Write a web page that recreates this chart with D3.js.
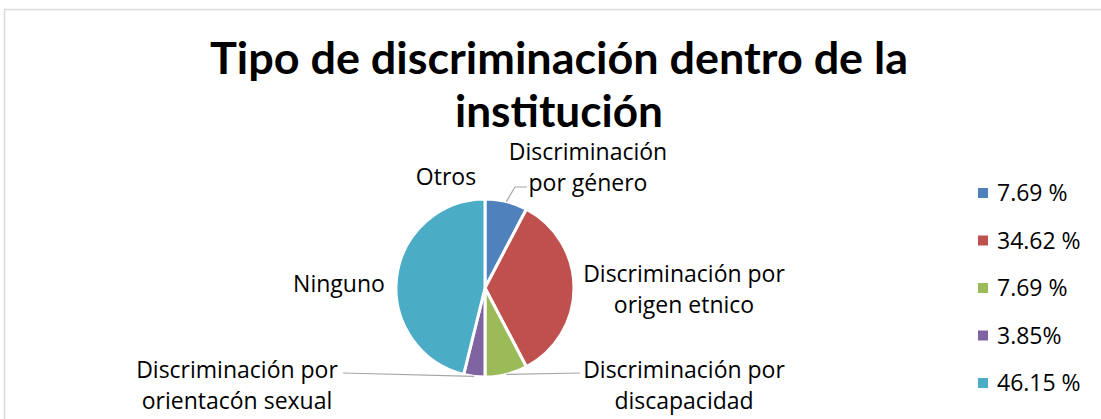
<!DOCTYPE html>
<html>
<head>
<meta charset="utf-8">
<script src="https://cdn.jsdelivr.net/npm/d3@7"></script>
<style>
  body { margin: 0; background: #fff; }
  text { font-family: "Open Sans", Lato, sans-serif; fill: #000; }
</style>
</head>
<body>
<div id="chart"></div>
<script>
// slice data (clockwise from 12 o'clock)
const categories = [
  "Discriminación por género",
  "Discriminación por origen etnico",
  "Discriminación por discapacidad",
  "Discriminación por orientacón sexual",
  "Ninguno",
  "Otros"
];
const values = [7.69, 34.62, 7.69, 3.85, 46.15, 0];
const legendLabels = ["7.69 %", "34.62 %", "7.69 %", "3.85%", "46.15 %"];
const colors = ["#4F81BD", "#C0504D", "#9BBB59", "#8064A2", "#4BACC6", "#F79646"];

// label text lines and where they sit
const labelLayout = [
  { lines: ["Discriminación", "por género"], x: 588, y: 160, leader: [[515, 187], [527, 187]] },
  { lines: ["Discriminación por", "origen etnico"], x: 684, y: 282 },
  { lines: ["Discriminación por", "discapacidad"], x: 684, y: 378, leader: [[580, 373]] },
  { lines: ["Discriminación por", "orientacón sexual"], x: 237, y: 378, leader: [[343, 373]] },
  { lines: ["Ninguno"], x: 339, y: 292 },
  { lines: ["Otros"], x: 446, y: 185 }
];

const width = 1101, height = 419;
const cx = 485, cy = 288, radius = 89;

const svg = d3.select("#chart").append("svg")
    .attr("width", width)
    .attr("height", height);

// chart area border
svg.append("rect")
    .attr("x", 4.5).attr("y", 9.5)
    .attr("width", 1200).attr("height", 600)
    .attr("fill", "none")
    .attr("stroke", "#D9D9D9")
    .attr("stroke-width", 1.5);

// title
const title = svg.append("text")
    .attr("text-anchor", "middle")
    .style("font-family", "Lato, sans-serif")
    .style("font-weight", "bold")
    .style("font-size", "44px");
title.append("tspan").attr("x", 559).attr("y", 74)
    .attr("textLength", 698).attr("lengthAdjust", "spacingAndGlyphs")
    .text("Tipo de discriminación dentro de la");
title.append("tspan").attr("x", 559).attr("y", 127)
    .attr("textLength", 208).attr("lengthAdjust", "spacingAndGlyphs")
    .text("institución");

const data = categories.map((c, i) => ({ name: c, value: values[i], color: colors[i] }));

const pie = d3.pie().sort(null).value(d => d.value);
const arcs = pie(data);
const arc = d3.arc().innerRadius(0).outerRadius(radius);

const g = svg.append("g").attr("transform", `translate(${cx},${cy})`);

g.selectAll("path")
  .data(arcs.filter(d => d.data.value > 0))
  .join("path")
    .attr("d", arc)
    .attr("fill", d => d.data.color)
    .attr("stroke", "#fff")
    .attr("stroke-width", 3)
    .attr("stroke-linejoin", "round");

// leader lines start at the slice edge, mid-angle
arcs.forEach((a, i) => {
  const lay = labelLayout[i];
  if (!lay.leader) return;
  const mid = (a.startAngle + a.endAngle) / 2;
  const start = [cx + radius * Math.sin(mid), cy - radius * Math.cos(mid)];
  svg.append("polyline")
      .attr("points", [start].concat(lay.leader).map(p => p.join(",")).join(" "))
      .attr("fill", "none")
      .attr("stroke", "#A6A6A6")
      .attr("stroke-width", 1.2);
});

// slice labels
labelLayout.forEach(lay => {
  const t = svg.append("text")
      .attr("text-anchor", "middle")
      .style("font-size", "23px");
  lay.lines.forEach((line, j) => {
    t.append("tspan").attr("x", lay.x).attr("y", lay.y + j * 31).text(line);
  });
});

// legend
const legend = svg.selectAll(".legend")
  .data(legendLabels)
  .join("g")
    .attr("class", "legend")
    .attr("transform", (d, i) => `translate(978,${193 + i * 47.5})`);

legend.append("rect")
    .attr("x", 0).attr("y", -5)
    .attr("width", 10).attr("height", 10)
    .attr("fill", (d, i) => colors[i]);

legend.append("text")
    .attr("x", 19).attr("y", 8)
    .style("font-size", "23px")
    .text(d => d);
</script>
</body>
</html>
